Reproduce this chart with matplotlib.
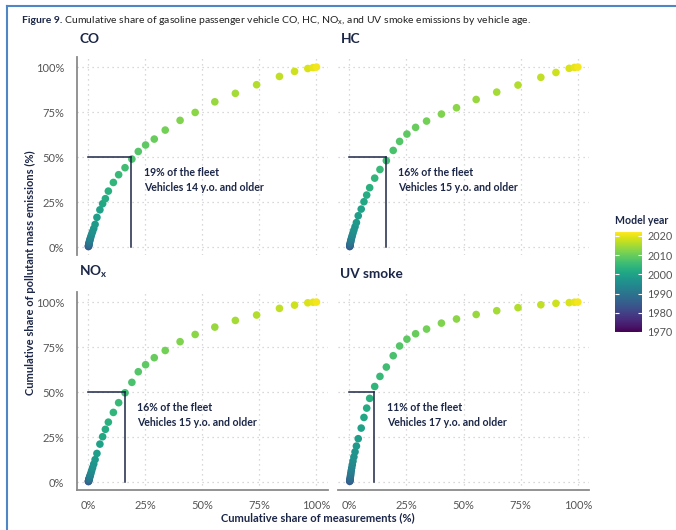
"""
Cumulative emission share vs. cumulative measurement share by model year,
for four pollutants measured by remote sensing on gasoline passenger cars.
"""

import matplotlib
matplotlib.use('Agg')
import matplotlib.pyplot as plt
from matplotlib.colors import Normalize
from matplotlib.lines import Line2D

# ==========================================
# --- DATA ---
# ==========================================

MODEL_YEARS = list(range(1984, 2022))

# Cumulative share of measurements (%), oldest model year first
FLEET_SHARE = [0.18, 0.22, 0.27, 0.33, 0.40, 0.48, 0.58, 0.70, 0.85, 1.05,
               1.3, 1.6, 2.0, 2.5, 3.1, 3.9, 5.2, 6.4, 7.6, 8.9,
               11.1, 13.4, 16.2, 19.2, 22.0, 25.2, 29.0, 33.8, 40.3, 46.9,
               55.5, 64.5, 73.8, 83.8, 90.4, 96.2, 98.5, 100.0]

# Cumulative share of pollutant mass emissions (%)
CO_SHARE = [0.3, 0.6, 0.9, 1.3, 1.7, 2.2, 2.8, 3.4, 4.1, 5.0,
            6.0, 7.2, 8.6, 10.3, 12.6, 16.5, 20.7, 24.1, 26.9, 31.1,
            35.9, 40.2, 44.1, 48.9, 53.1, 56.7, 60.0, 65.0, 70.4, 74.8,
            80.7, 85.4, 90.2, 94.8, 97.6, 99.2, 99.7, 100.0]
HC_SHARE = [0.3, 0.6, 1.0, 1.4, 1.9, 2.4, 3.0, 3.7, 4.5, 5.4,
            6.5, 7.8, 9.4, 11.3, 13.6, 17.4, 21.1, 25.2, 28.9, 33.0,
            38.3, 43.1, 48.0, 53.7, 58.7, 62.8, 66.5, 70.0, 73.9, 77.4,
            82.0, 86.1, 90.0, 94.3, 97.0, 99.3, 99.8, 100.0]
NOX_SHARE = [0.3, 0.5, 0.8, 1.1, 1.4, 1.8, 2.2, 2.7, 3.3, 4.1,
             5.1, 6.4, 8.0, 10.0, 12.5, 15.9, 21.1, 25.2, 29.3, 33.3,
             38.7, 44.1, 49.6, 55.4, 61.3, 65.2, 69.1, 73.1, 78.0, 82.0,
             86.1, 89.8, 92.8, 96.5, 98.3, 99.6, 99.9, 100.0]
UV_SHARE = [0.4, 0.7, 1.1, 1.6, 2.3, 3.1, 4.0, 5.1, 6.4, 7.9,
            9.6, 11.6, 14.0, 16.8, 20.0, 24.1, 30.0, 35.9, 41.1, 46.5,
            53.1, 58.7, 63.9, 70.2, 75.6, 79.4, 82.4, 85.0, 88.3, 90.6,
            93.1, 95.2, 96.9, 98.5, 99.3, 99.7, 99.9, 100.0]

PANEL_TITLES = ['CO', 'HC', r'NO$_\mathbf{x}$', 'UV smoke']
PANEL_SERIES = [CO_SHARE, HC_SHARE, NOX_SHARE, UV_SHARE]

# Fleet share and age threshold that account for half of the emissions
HALF_FLEET_SHARE = [19, 16, 16, 11]
HALF_FLEET_AGE = [14, 15, 15, 17]

PCT_TICKS = [0, 25, 50, 75, 100]
PCT_LABELS = ['0%', '25%', '50%', '75%', '100%']
CBAR_TICKS = [1970, 1980, 1990, 2000, 2010, 2020]

# ==========================================
# --- STYLE ---
# ==========================================

W_PX, H_PX = 676, 530
DPI = 100
NAVY = '#1c2747'
TICK_GREY = '#555555'
SPINE_GREY = '#8a8a8a'
GRID_GREY = '#cccccc'
FRAME_BLUE = '#4f86c6'
CMAP = 'viridis'
NORM = Normalize(vmin=1970, vmax=2022)

plt.rcParams['font.family'] = ['Lato', 'DejaVu Sans']
plt.rcParams['mathtext.fontset'] = 'custom'
plt.rcParams['mathtext.rm'] = 'Lato'
plt.rcParams['mathtext.bf'] = 'Lato:bold'


def px_box(left, top, right, bottom):
    """Convert a pixel box (origin top-left) to figure fractions."""
    return [left / W_PX, 1 - bottom / H_PX, (right - left) / W_PX, (bottom - top) / H_PX]


def draw_panel(ax, title, share, half_x, half_age, show_left, show_bottom):
    ax.set_xlim(-5, 105)
    ax.set_ylim(-4.4, 105.6)
    ax.set_xticks(PCT_TICKS)
    ax.set_yticks(PCT_TICKS)
    ax.grid(True, color=GRID_GREY, linestyle=(0, (1, 3)), linewidth=0.9)
    ax.set_axisbelow(True)

    for side in ['top', 'right']:
        ax.spines[side].set_visible(False)
    ax.spines['left'].set_visible(show_left)
    ax.spines['bottom'].set_visible(show_bottom)
    for side in ['left', 'bottom']:
        ax.spines[side].set_color(SPINE_GREY)
        ax.spines[side].set_linewidth(1.3)

    ax.tick_params(length=0, labelsize=8, labelcolor=TICK_GREY)
    ax.tick_params(axis='y', pad=9)
    ax.tick_params(axis='x', pad=7)
    ax.set_yticklabels(PCT_LABELS if show_left else [])
    ax.set_xticklabels(PCT_LABELS if show_bottom else [])

    ax.scatter(FLEET_SHARE, share, c=MODEL_YEARS, cmap=CMAP, norm=NORM,
               s=30, linewidths=0, zorder=2)

    # Guide lines to the 50% emissions mark
    ax.plot([0, half_x], [50, 50], color=NAVY, linewidth=1.1, zorder=3)
    ax.plot([half_x, half_x], [0, 50], color=NAVY, linewidth=1.1, zorder=3)
    ax.text(half_x + 5.5, 44.5, f'{half_x}% of the fleet\nVehicles {half_age} y.o. and older',
            fontsize=7.6, fontweight='bold', color=NAVY, va='top', ha='left',
            linespacing=1.45)

    ax.text(0.01, 1.06, title, transform=ax.transAxes, fontsize=9.8,
            fontweight='bold', color=NAVY, va='bottom', ha='left')


def main():
    fig = plt.figure(figsize=(W_PX / DPI, H_PX / DPI), dpi=DPI)

    boxes = [
        px_box(76.6, 57, 327.9, 255),
        px_box(337.9, 57, 589.3, 255),
        px_box(76.6, 292, 327.9, 490),
        px_box(337.9, 292, 589.3, 490),
    ]
    for i, box in enumerate(boxes):
        ax = fig.add_axes(box)
        draw_panel(ax, PANEL_TITLES[i], PANEL_SERIES[i], HALF_FLEET_SHARE[i],
                   HALF_FLEET_AGE[i], show_left=(i % 2 == 0), show_bottom=(i >= 2))

    # Model year colour bar
    cax = fig.add_axes(px_box(615, 232, 642, 332))
    sm = plt.cm.ScalarMappable(norm=NORM, cmap=CMAP)
    cbar = fig.colorbar(sm, cax=cax, ticks=CBAR_TICKS)
    cbar.outline.set_visible(False)
    cax.tick_params(direction='in', color='white', length=3, width=0.8,
                    left=True, right=True, labelsize=7.8, labelcolor=TICK_GREY, pad=4)
    cax.text(0, 1.06, 'Model year', transform=cax.transAxes, fontsize=7.6,
             fontweight='bold', color=NAVY, va='bottom', ha='left')

    # Shared axis labels
    fig.text(30 / W_PX, 1 - 273 / H_PX, 'Cumulative share of pollutant mass emissions (%)',
             rotation=90, fontsize=8, fontweight='bold', color=NAVY, ha='center', va='center')
    fig.text(318 / W_PX, 1 - 518 / H_PX, 'Cumulative share of measurements (%)',
             fontsize=8, fontweight='bold', color=NAVY, ha='center', va='center')

    # Figure caption: bold label followed by the regular text on the same baseline
    cap_y = 1 - 23 / H_PX
    cap = fig.text(22 / W_PX, cap_y, 'Figure 9.', fontsize=7.5,
                   fontweight='bold', color=NAVY, ha='left', va='baseline')
    fig.canvas.draw()
    cap_end = cap.get_window_extent().x1 / W_PX
    fig.text(cap_end, cap_y, r' Cumulative share of gasoline passenger vehicle CO, HC, NO$_\mathrm{x}$, '
             'and UV smoke emissions by vehicle age.', fontsize=7.5, color='#222222',
             ha='left', va='baseline')

    # Frame along the top and left edge
    fig.add_artist(Line2D([7 / W_PX, 1], [1 - 6 / H_PX, 1 - 6 / H_PX],
                          transform=fig.transFigure, color=FRAME_BLUE, linewidth=1.5))
    fig.add_artist(Line2D([7 / W_PX, 7 / W_PX], [0, 1 - 6 / H_PX],
                          transform=fig.transFigure, color=FRAME_BLUE, linewidth=1.5))

    fig.savefig('out.png', dpi=DPI)
    plt.close(fig)


if __name__ == '__main__':
    main()
